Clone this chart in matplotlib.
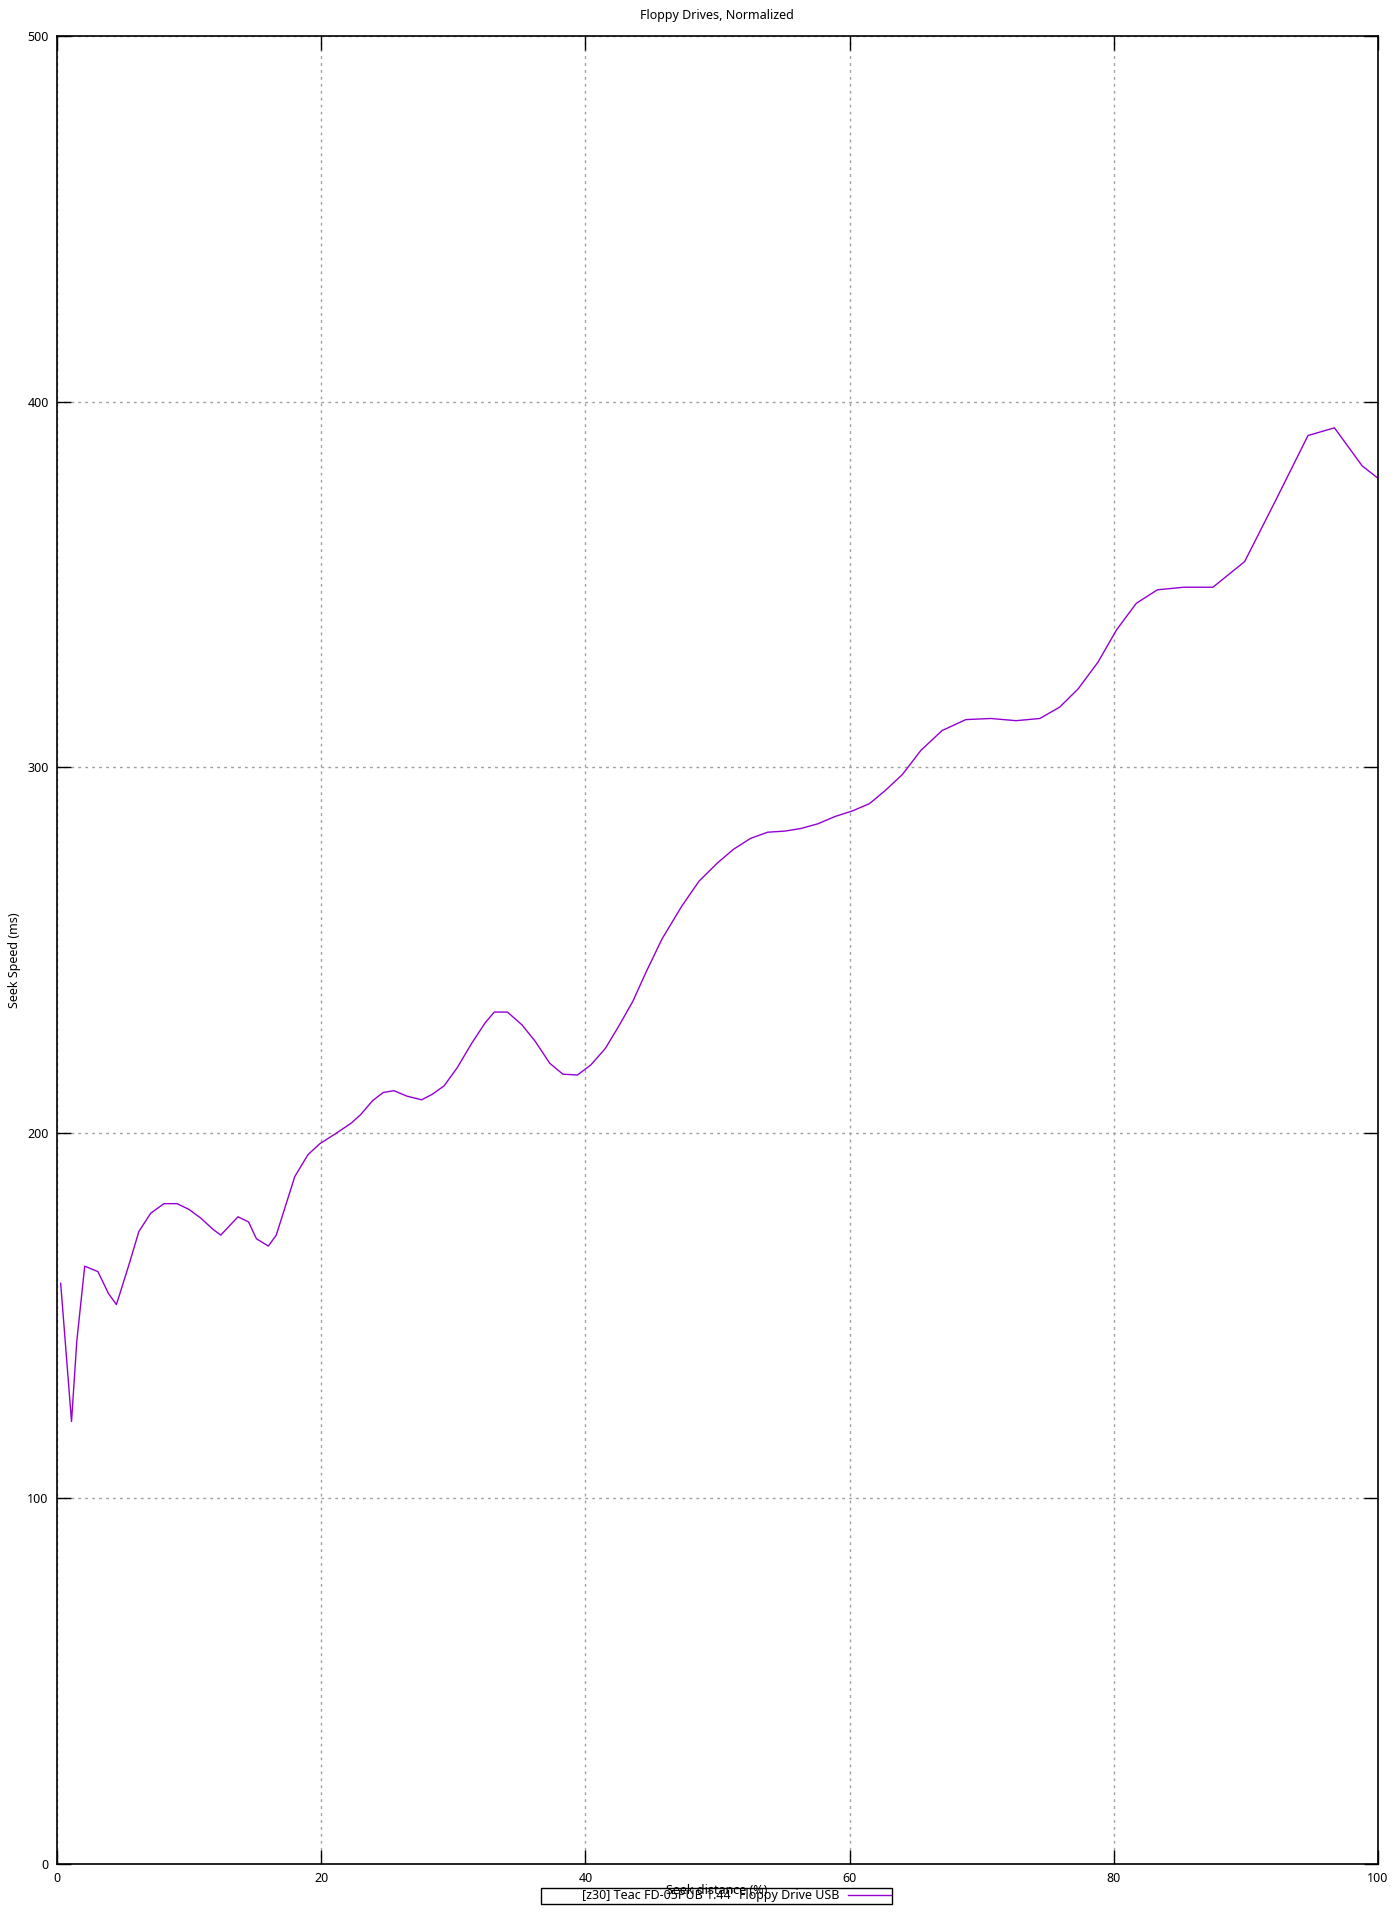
import numpy as np
import matplotlib.pyplot as plt

plt.rcParams['font.family'] = ['Noto Sans', 'DejaVu Sans']

seek_dist = [0.28, 1.1, 1.5, 2.1, 3.1, 3.9, 4.5, 5.5, 6.2, 7.1, 8.1, 9.1, 10.0,
             10.9, 11.8, 12.4, 13.7, 14.5, 15.1, 16.0, 16.6, 18.0, 19.0, 19.9,
             21.2, 22.3, 23.0, 23.9, 24.7, 25.5, 26.5, 27.6, 28.4, 29.3, 30.3,
             31.4, 32.4, 33.1, 34.1, 35.2, 36.2, 37.3, 38.3, 39.4, 40.4, 41.5,
             42.5, 43.6, 44.6, 45.8, 47.3, 48.6, 50.0, 51.2, 52.5, 53.8, 55.1,
             56.3, 57.6, 58.9, 60.2, 61.5, 62.7, 64.0, 65.4, 67.0, 68.8, 70.7,
             72.6, 74.4, 75.9, 77.3, 78.8, 80.2, 81.7, 83.3, 85.3, 87.5, 89.9,
             92.3, 94.7, 96.7, 98.8, 100.0]
seek_speed = [158.8, 121.0, 143.0, 163.5, 162.0, 156.0, 153.0, 164.5, 173.0,
              178.0, 180.6, 180.6, 179.0, 176.6, 173.6, 172.0, 177.0, 175.6,
              171.0, 169.0, 172.0, 188.0, 194.0, 197.0, 200.0, 202.7, 205.0,
              208.8, 211.0, 211.5, 210.0, 209.0, 210.5, 212.8, 217.8, 224.5,
              230.0, 233.0, 233.0, 229.5, 225.0, 219.0, 216.0, 215.8, 218.5,
              223.0, 229.0, 236.0, 244.0, 253.0, 262.0, 268.8, 273.8, 277.5,
              280.5, 282.2, 282.5, 283.2, 284.5, 286.5, 288.0, 290.0, 293.6,
              298.0, 304.6, 310.0, 313.0, 313.3, 312.7, 313.3, 316.4, 321.4,
              328.7, 337.5, 344.8, 348.5, 349.2, 349.2, 356.2, 373.3, 390.7,
              392.8, 382.4, 379.0]

x_ticks = [0, 20, 40, 60, 80, 100]
y_ticks = [0, 100, 200, 300, 400, 500]
label = '[z30] Teac FD-05PUB 1.44" Floppy Drive USB'

fig = plt.figure(figsize=(14, 19.2), dpi=100)
ax = fig.add_axes([0.0407, 0.0292, 0.9436, 0.9521])

line, = ax.plot(seek_dist, seek_speed, color='#9400D3', lw=1.0, label=label)

ax.set_xlim(0, 100)
ax.set_ylim(0, 500)
ax.set_xticks(x_ticks)
ax.set_yticks(y_ticks)
ax.grid(True, color='#a0a0a0', linestyle=(0, (2, 3)), lw=1.0)
ax.tick_params(direction='in', length=10, width=1.0, top=True, right=True,
               labelsize=9, pad=6)
for s in ax.spines.values():
    s.set_linewidth(1.2)

fig.text(0.512, 0.9917, 'Floppy Drives, Normalized', ha='center', va='center',
         fontsize=9)
fig.text(0.006, 0.5, 'Seek Speed (ms)', rotation=90, ha='left', va='center',
         fontsize=9)

# Legende wie bei gnuplot: Text rechtsbuendig, Linie rechts daneben
leg = fig.legend(handles=[line], labels=['            ' + label], loc='center',
                 bbox_to_anchor=(0.512, 0.0125),
                 markerfirst=False, fancybox=False, framealpha=1,
                 edgecolor='black', fontsize=9, handlelength=3.4,
                 borderpad=0.15, handletextpad=0.7, borderaxespad=0)
leg.get_frame().set_linewidth(1.0)

# Achsenbeschriftung liegt im Original ueber der Legende
fig.text(0.512, 0.0152, 'Seek distance (%)', ha='center', va='center',
         fontsize=9, zorder=10)

plt.savefig('out.png', dpi=100)
